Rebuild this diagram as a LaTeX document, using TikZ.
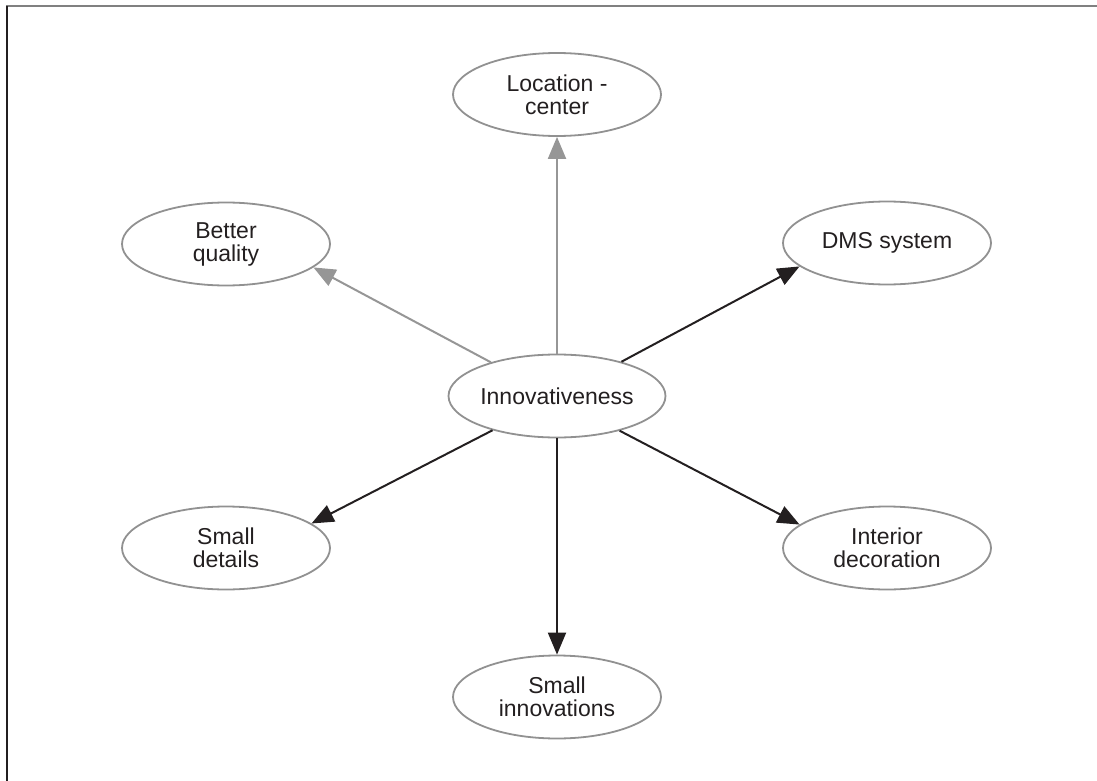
\documentclass[tikz,border=0pt]{standalone}
\usepackage{fontspec}
\setmainfont{Liberation Sans}
\usetikzlibrary{arrows.meta,shapes.geometric}
\definecolor{ink}{RGB}{35,31,32}
\definecolor{rim}{RGB}{145,145,145}
\definecolor{faint}{RGB}{150,150,150}
\begin{document}
\begin{tikzpicture}[x=0.5pt, y=-0.5pt,
		bubble/.style={ellipse, draw=rim, line width=0.9pt, minimum width=104pt, minimum height=41.5pt, inner sep=0pt, align=center, text=ink, font=\fontsize{11.5}{11.5}\selectfont},
		link/.style={draw=ink, line width=1pt, -{Triangle[length=11pt, width=9pt]}},
		softlink/.style={link, draw=faint, color=faint}]
	\useasboundingbox (0, 0) rectangle (1097, 781);
	\draw[color=gray, line width=1pt] (6, 6.5) -- (1097, 6.5);
	\draw[color=ink, line width=1pt] (6.5, 6) -- (6.5, 781);

	\node[bubble] (inno) at (557, 396) {Innovativeness};
	\node[bubble] (loc) at (557, 94.5) {Location -\\center};
	\node[bubble] (qual) at (226, 244) {Better\\quality};
	\node[bubble] (dms) at (887, 243) {DMS system};
	\node[bubble] (deco) at (887, 548) {Interior\\decoration};
	\node[bubble] (details) at (226, 548) {Small\\details};
	\node[bubble] (small) at (557, 697) {Small\\innovations};

	\draw[softlink] (inno.north) -- (loc.south);
	\draw[softlink] (inno.153) -- (qual.-15);
	\draw[link] (inno.28) -- (dms.-165);
	\draw[link] (inno.-29) -- (deco.165);
	\draw[link] (inno.-152) -- (details.16);
	\draw[link] (inno.south) -- (small.north);
\end{tikzpicture}
\end{document}
